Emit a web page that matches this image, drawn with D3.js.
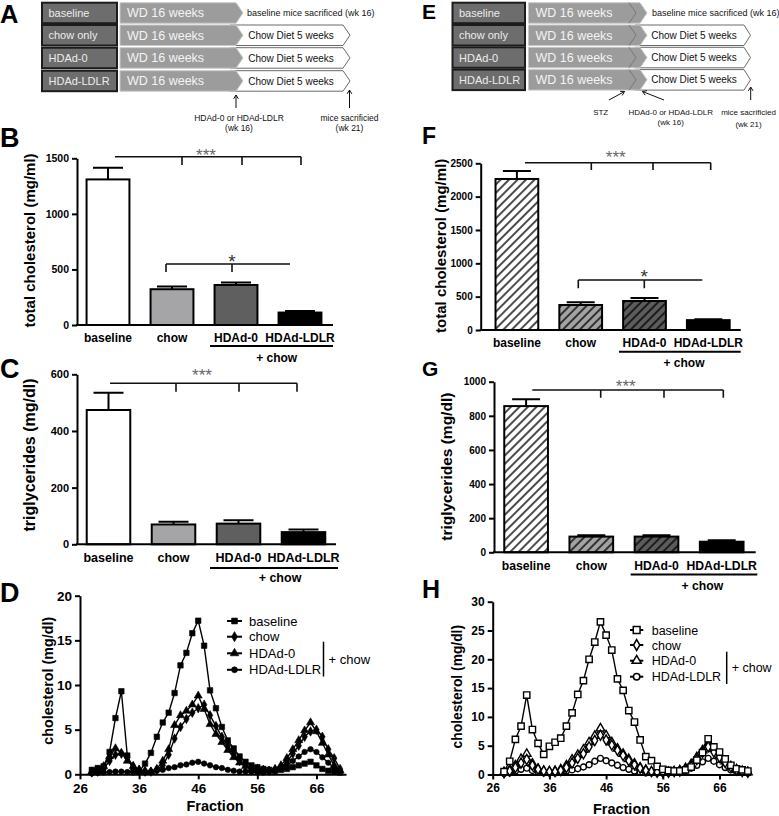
<!DOCTYPE html>
<html><head><meta charset="utf-8">
<script src="https://cdn.jsdelivr.net/npm/d3@7"></script>
<style>
body{margin:0;background:#fff}
svg{display:block;font-family:"Liberation Sans",Arial,sans-serif}
</style></head><body>
<svg id="c" width="779" height="816"></svg>
<script>
// ---------------- DATA ----------------
const groups = ["baseline","chow","HDAd-0","HDAd-LDLR"];
const timelineRows = ["baseline","chow only","HDAd-0","HDAd-LDLR"];
const wdText = "WD 16 weeks";
const chowText = "Chow Diet 5 weeks";
const baselineEndText = "baseline mice sacrificed (wk 16)";

const cholB = [1310, 322, 360, 112];
const cholBErr = [105, 25, 22, 13];
const trigC = [474, 70, 73, 43];
const trigCErr = [61, 10, 12, 9];
const cholF = [2265, 375, 435, 148];
const cholFErr = [120, 40, 45, 15];
const trigG = [857, 92, 92, 62];
const trigGErr = [40, 8, 8, 8];

const ticksB = [0, 500, 1000, 1500];
const ticksC = [0, 200, 400, 600];
const ticksF = [0, 500, 1000, 1500, 2000, 2500];
const ticksG = [0, 200, 400, 600, 800, 1000];
const ticksD = [0, 5, 10, 15, 20];
const ticksH = [0, 5, 10, 15, 20, 25, 30];
const fractionTicks = [26, 36, 46, 56, 66];

const fractionsD = [28,29,30,31,32,33,34,35,36,37,38,39,40,41,42,43,44,45,46,47,48,49,50,51,52,53,54,55,56,57,58,59,60,61,62,63,64,65,66,67,68,69,70];
const baselineD = [0.5,0.7,0.9,2.5,6.3,9.3,2.1,0.5,0.3,1.2,2.4,4.2,5.8,6.9,9.1,12.2,13.6,15.8,17.2,14.4,9.4,7.4,5.3,3.8,2.9,2.0,1.4,1.0,0.8,0.6,0.5,0.4,0.5,0.6,0.8,1.0,1.2,1.4,1.0,0.6,0.4,0.3,0.2];
const chowD = [0.2,0.3,0.6,1.5,2.2,2.3,1.9,0.9,0.5,0.3,0.3,0.5,1.0,2.2,4.0,5.3,6.2,6.9,7.4,7.8,6.6,5.4,4.2,3.2,2.3,1.5,1.0,0.7,0.6,0.5,0.4,0.5,0.8,1.4,2.3,3.2,4.2,4.8,5.0,4.2,2.8,1.8,0.6];
const hdad0D = [0.3,0.5,0.9,2.0,2.9,2.4,1.5,0.9,0.5,0.4,0.3,0.6,1.5,2.8,5.5,6.6,7.1,7.8,8.8,7.3,5.6,4.5,3.6,2.7,1.9,1.3,0.9,0.6,0.5,0.4,0.4,0.6,1.0,1.8,2.8,3.8,4.9,5.8,4.8,3.5,2.2,1.0,0.4];
const ldlrD = [0.1,0.15,0.2,0.25,0.3,0.3,0.25,0.2,0.2,0.2,0.3,0.4,0.5,0.7,0.8,1.0,1.1,1.3,1.4,1.2,1.0,0.8,0.7,0.5,0.4,0.3,0.3,0.25,0.2,0.2,0.3,0.4,0.6,1.0,1.5,2.0,2.5,2.8,2.5,1.9,1.3,0.7,0.3];

const fractionsH = [28,29,30,31,32,33,34,35,36,37,38,39,40,41,42,43,44,45,46,47,48,49,50,51,52,53,54,55,56,57,58,59,60,61,62,63,64,65,66,67,68,69,70,71];
const baselineH = [0.5,2.3,6.1,8.4,13.8,7.8,5.4,3.5,4.9,5.6,6.3,8.4,10.7,13.9,16.3,20.0,23.0,26.5,24.2,21.6,16.6,14.6,11.1,9.1,6.0,3.1,2.4,1.4,0.9,0.7,0.6,0.6,0.8,1.3,2.5,3.8,6.2,4.8,3.9,2.7,1.6,1.0,0.8,0.6];
const chowH = [0.3,0.6,1.2,2.0,2.6,1.6,0.9,0.6,0.5,0.5,0.7,1.2,2.0,2.8,3.6,4.8,5.9,6.8,6.0,5.1,4.2,3.3,2.4,1.7,1.1,0.7,0.5,0.4,0.4,0.4,0.5,0.6,0.9,1.5,2.6,3.8,4.8,3.9,3.0,2.1,1.3,0.8,0.5,0.4];
const hdad0H = [0.4,0.8,1.6,2.7,3.6,1.9,1.0,0.6,0.5,0.6,0.9,1.6,2.6,3.4,4.3,5.6,6.7,8.0,6.8,5.6,4.5,3.6,2.7,1.9,1.2,0.8,0.5,0.4,0.4,0.4,0.5,0.7,1.1,1.8,3.0,4.2,5.4,4.4,3.3,2.3,1.4,0.9,0.6,0.4];
const ldlrH = [0.2,0.3,0.6,0.9,1.1,0.7,0.5,0.3,0.3,0.3,0.4,0.6,0.8,1.0,1.3,1.7,2.3,2.8,2.4,2.0,1.6,1.2,0.9,0.6,0.4,0.3,0.3,0.3,0.3,0.3,0.4,0.5,0.7,1.1,1.6,2.2,2.8,2.3,1.7,1.2,0.8,0.5,0.4,0.3];

// ---------------- DRAW ----------------
const svg = d3.select("#c");
const defs = svg.append("defs");
function hatch(id, bg){
  const p = defs.append("pattern").attr("id", id).attr("patternUnits","userSpaceOnUse")
    .attr("width", 6).attr("height", 6).attr("patternTransform","rotate(45)");
  p.append("rect").attr("width", 6).attr("height", 6).attr("fill", bg);
  p.append("line").attr("x1",1).attr("x2",1).attr("y1",0).attr("y2",6).attr("stroke","#000").attr("stroke-width",1.4);
}
hatch("h0","#fff"); hatch("h1","#a3a3a5"); hatch("h2","#5c5c5c");

function letter(t, x, y, s){
  svg.append("text").attr("x",x).attr("y",y).attr("font-size",s).attr("font-weight","bold").text(t);
}
letter("A",0,23,25.5); letter("B",0,147,27); letter("C",0,378,27); letter("D",0,602,27);
letter("E",422,19,21); letter("F",422,143.5,23); letter("G",422,375.5,21); letter("H",422,598,25);

// ---------- timelines ----------
function timeline(c){
  const g = svg.append("g");
  timelineRows.forEach((lab,i)=>{
    const top = c.tops[i], h = c.h, mid = top + h/2, bot = top + h;
    if(i>0){
      g.append("polygon").attr("points",[[c.chowX0,top],[c.chowEnd,top],[c.chowTip,mid],[c.chowEnd,bot],[c.chowX0,bot]].join(" "))
        .attr("fill","#fff").attr("stroke","#6a6a6a").attr("stroke-width",1);
      g.append("text").attr("x",c.chowTextX).attr("y",mid+3.6).attr("text-anchor","middle").attr("font-size",10).attr("fill","#111").text(chowText);
    } else {
      g.append("text").attr("x",c.endTextX).attr("y",mid+3.2).attr("font-size",9).attr("fill","#111").text(baselineEndText);
    }
    g.append("polygon").attr("points",[[c.wdX0,top],[c.wdEnd,top],[c.wdTip,mid],[c.wdEnd,bot],[c.wdX0,bot]].join(" "))
      .attr("fill","#9c9c9c").attr("stroke","#c9c9c9").attr("stroke-width",1);
    if(c.inner){
      g.append("polyline").attr("points",[[c.inner,top],[c.inner+7,mid],[c.inner,bot]].join(" "))
        .attr("fill","none").attr("stroke","#777").attr("stroke-width",1);
    }
    g.append("rect").attr("x",c.labX0).attr("y",top).attr("width",c.labX1-c.labX0).attr("height",h)
      .attr("fill","#6d6d6d").attr("stroke","#1c1c1c").attr("stroke-width",2);
    g.append("text").attr("x",c.labX0+6.5).attr("y",mid+4).attr("font-size",11).attr("fill","#ececec").text(lab);
    g.append("text").attr("x",c.wdTextX).attr("y",mid+4.5).attr("font-size",12.5).attr("fill","#f4f4f4").text(wdText);
  });
  return g;
}
timeline({tops:[2.7,25,47.7,70.7],h:20.5,labX0:42,labX1:117,wdX0:120,wdEnd:236,wdTip:243,chowX0:230,chowEnd:343,chowTip:350,chowTextX:291,endTextX:247,wdTextX:127});
timeline({tops:[2.7,25,47.3,69.6],h:20.5,labX0:452.5,labX1:525,wdX0:528.5,wdEnd:640,wdTip:647,inner:629,chowX0:635,chowEnd:744,chowTip:750.5,chowTextX:694,endTextX:652,wdTextX:535.5});

function arrow(x1,y1,x2,y2){
  const a = Math.atan2(y2-y1,x2-x1), L = 4.5, w = 0.55;
  const g = svg.append("g").attr("stroke","#111").attr("stroke-width",1).attr("fill","none");
  g.append("line").attr("x1",x1).attr("y1",y1).attr("x2",x2).attr("y2",y2);
  g.append("polyline").attr("points",[[x2-L*Math.cos(a-w),y2-L*Math.sin(a-w)],[x2,y2],[x2-L*Math.cos(a+w),y2-L*Math.sin(a+w)]].join(" "));
}
function note(t,x,y,s){ svg.append("text").attr("x",x).attr("y",y).attr("text-anchor","middle").attr("font-size",s).attr("fill","#111").text(t); }
arrow(236,108,236,95); arrow(349.5,108,349.5,90);
note("HDAd-0  or HDAd-LDLR",239,120.5,8.5); note("(wk 16)",239,130.5,8.5);
note("mice sacrificied",349.5,120.5,8.5); note("(wk 21)",349.5,130.5,8.5);
arrow(609,100,624.5,91.5); arrow(664,100,642.5,91.5); arrow(750.7,100,750.7,87);
note("STZ",600.7,115,8); note("HDAd-0 or HDAd-LDLR",670.7,115,8); note("(wk 16)",670.7,125,8);
note("mice sacrificied",748.5,115,8); note("(wk 21)",748.5,126.5,8);

// ---------- bar panels ----------
const fmt = d3.format("d");
function sig(g, s){
  g.append("path").attr("d", `M${s.x0},${s.y}H${s.x1}` + s.drops.map(d=>`M${d},${s.y}V${s.to}`).join(""))
    .attr("stroke","#111").attr("stroke-width",1.6).attr("fill","none");
  g.append("text").attr("x",s.tx).attr("y",s.ty + 0.58*s.size).attr("text-anchor","middle")
    .attr("font-size",s.size).attr("fill",s.color).text(s.text);
}
function styleAxis(sel, size){
  sel.select(".domain").attr("stroke-width",2);
  sel.selectAll(".tick line").attr("stroke-width",2);
  sel.selectAll("text").attr("font-size",size).attr("font-weight","bold").attr("font-family",'"Liberation Sans",Arial,sans-serif').attr("fill","#000");
}
function barPanel(c){
  const g = svg.append("g");
  const x = d3.scaleBand().domain(groups).range(c.band).paddingInner(0.33).paddingOuter(0.165);
  const y = d3.scaleLinear().domain(c.yDomain).range(c.yRange);
  const bw = x.bandwidth();
  g.selectAll("line.err").data(c.values).join("path")
    .attr("d",(d,i)=>{const xc=x(groups[i])+bw/2, yt=y(d+c.errs[i]); return `M${xc},${y(d)}V${yt}M${xc-c.cap/2},${yt}H${xc+c.cap/2}`;})
    .attr("stroke","#000").attr("stroke-width",2).attr("fill","none");
  g.selectAll("rect.bar").data(c.values).join("rect")
    .attr("x",(d,i)=>x(groups[i])).attr("width",bw)
    .attr("y",d=>y(d)).attr("height",d=>y(0)-y(d))
    .attr("fill",(d,i)=>c.fills[i]).attr("stroke","#000").attr("stroke-width",2);
  g.append("g").attr("transform",`translate(${c.axisX},0)`)
    .call(d3.axisLeft(y).tickValues(c.ticks).tickFormat(fmt).tickSize(5).tickSizeOuter(0).tickPadding(3))
    .call(s=>styleAxis(s,c.tickSize));
  g.append("line").attr("x1",c.axisX-1).attr("x2",c.axisEnd).attr("y1",y(0)).attr("y2",y(0)).attr("stroke","#000").attr("stroke-width",2);
  g.selectAll("text.cat").data(groups).join("text")
    .attr("x",d=>x(d)+bw/2).attr("y",c.labelY).attr("text-anchor","middle")
    .attr("font-size",c.labelSize).attr("font-weight","bold").text(d=>d);
  g.append("line").attr("x1",c.under[0]).attr("x2",c.under[1]).attr("y1",c.under[2]).attr("y2",c.under[2]).attr("stroke","#000").attr("stroke-width",2);
  g.append("text").attr("x",c.plus[0]).attr("y",c.plus[1]).attr("text-anchor","middle").attr("font-size",c.labelSize).attr("font-weight","bold").text("+ chow");
  g.append("text").attr("transform",`translate(${c.title[0]},${c.title[1]}) rotate(-90)`).attr("text-anchor","middle")
    .attr("font-size",c.title[2]).attr("font-weight","bold").text(c.title[3]);
  c.sigs.forEach(s=>sig(g,s));
}
const solidFills = ["#fff","#a5a5a7","#5f5f5f","#000"];
const hatchFills = ["url(#h0)","url(#h1)","url(#h2)","#000"];

barPanel({band:[76,332],yDomain:[0,1500],yRange:[325,158.3],values:cholB,errs:cholBErr,fills:solidFills,cap:30,
  axisX:77,axisEnd:333,ticks:ticksB,tickSize:10.5,labelY:341.7,labelSize:12,under:[210,333,346],plus:[276.7,361.7],
  title:[34.5,240.5,15,"total cholesterol (mg/ml)"],
  sigs:[{x0:115,x1:301,y:156.7,drops:[182,242,301],to:165,text:"***",tx:206,ty:151,size:17,color:"#666"},
        {x0:166,x1:290,y:264,drops:[166,232],to:272,text:"*",tx:232,ty:256.5,size:19,color:"#333"}]});
barPanel({band:[76,336],yDomain:[0,600],yRange:[544.3,374.3],values:trigC,errs:trigCErr,fills:solidFills,cap:30,
  axisX:77,axisEnd:336,ticks:ticksC,tickSize:11,labelY:561.7,labelSize:12.5,under:[210,338,568],plus:[280,581.7],
  title:[35,455,16,"triglycerides (mg/dl)"],
  sigs:[{x0:110,x1:297,y:383.3,drops:[176,239,297],to:391.7,text:"***",tx:202,ty:371,size:17,color:"#666"}]});
barPanel({band:[485,740.2],yDomain:[0,2500],yRange:[330,163.3],values:cholF,errs:cholFErr,fills:hatchFills,cap:28,
  axisX:480.7,axisEnd:740.7,ticks:ticksF,tickSize:10,labelY:346.7,labelSize:12,under:[619,740.7,351.7],plus:[684,366.7],
  title:[446,245.8,15,"total cholesterol (mg/ml)"],
  sigs:[{x0:525,x1:710.7,y:162.7,drops:[591.3,653,710.7],to:170,text:"***",tx:615.7,ty:152.7,size:17,color:"#666"},
        {x0:578.3,x1:702.3,y:280,drops:[578.3,644.3],to:288.3,text:"*",tx:644.3,ty:272,size:19,color:"#333"}]});
barPanel({band:[493.5,754.3],yDomain:[0,1000],yRange:[552.3,381.7],values:trigG,errs:trigGErr,fills:hatchFills,cap:28,
  axisX:494,axisEnd:755.7,ticks:ticksG,tickSize:10,labelY:570,labelSize:12.2,under:[630.7,757.3,574.5],plus:[702.3,590],
  title:[452,466.7,15.5,"triglycerides (mg/dl)"],
  sigs:[{x0:532.3,x1:723.3,y:390,drops:[600.7,664,723.3],to:397.7,text:"***",tx:625.7,ty:381.7,size:17,color:"#666"}]});

// ---------- line panels ----------
const symTypes = [d3.symbolSquare, d3.symbolDiamond, d3.symbolTriangle, d3.symbolCircle];
function linePanel(c){
  const g = svg.append("g");
  const x = d3.scaleLinear().domain(c.xDomain).range(c.xRange);
  const y = d3.scaleLinear().domain(c.yDomain).range(c.yRange);
  const line = d3.line().x(d=>x(d[0])).y(d=>y(d[1]));
  const sizes = c.sizes;
  for(let k=c.series.length-1;k>=0;k--){
    const pts = c.fr.map((f,i)=>[f,c.series[k][i]]);
    g.append("path").datum(pts).attr("d",line).attr("fill","none").attr("stroke","#000").attr("stroke-width",1.4);
    g.selectAll(null).data(pts).join("path")
      .attr("transform",d=>`translate(${x(d[0])},${y(d[1])})`)
      .attr("d",d3.symbol().type(symTypes[k]).size(sizes[k]))
      .attr("fill",c.open?"#fff":"#000").attr("stroke","#000").attr("stroke-width",c.open?1.4:0.6);
  }
  g.append("g").attr("transform",`translate(${c.xRange[0]},0)`)
    .call(d3.axisLeft(y).tickValues(c.yTicks).tickFormat(fmt).tickSize(5).tickSizeOuter(0).tickPadding(3))
    .call(s=>styleAxis(s,c.tickSize));
  g.append("g").attr("transform",`translate(0,${c.yRange[0]})`)
    .call(d3.axisBottom(x).tickValues(fractionTicks).tickFormat(fmt).tickSize(5).tickSizeOuter(0).tickPadding(4))
    .call(s=>styleAxis(s,c.tickSize));
  g.append("text").attr("x",c.xTitle[0]).attr("y",c.xTitle[1]).attr("text-anchor","middle").attr("font-size",c.xTitle[2]).attr("font-weight","bold").text("Fraction");
  g.append("text").attr("transform",`translate(${c.yTitle[0]},${c.yTitle[1]}) rotate(-90)`).attr("text-anchor","middle")
    .attr("font-size",c.yTitle[2]).attr("font-weight","bold").text("cholesterol (mg/dl)");
  const L = c.legend;
  groups.forEach((name,k)=>{
    const yy = L.rows[k];
    g.append("line").attr("x1",L.x0).attr("x2",L.x1).attr("y1",yy).attr("y2",yy).attr("stroke","#000").attr("stroke-width",2);
    g.append("path").attr("transform",`translate(${(L.x0+L.x1)/2},${yy})`)
      .attr("d",d3.symbol().type(symTypes[k]).size(sizes[k]*1.15))
      .attr("fill",c.open?"#fff":"#000").attr("stroke","#000").attr("stroke-width",c.open?1.5:0.6);
    g.append("text").attr("x",L.tx).attr("y",yy+L.fs*0.36).attr("font-size",L.fs).text(name);
  });
  g.append("line").attr("x1",L.vx).attr("x2",L.vx).attr("y1",L.vy[0]).attr("y2",L.vy[1]).attr("stroke","#000").attr("stroke-width",1.5);
  g.append("text").attr("x",L.vx+5).attr("y",L.cy+L.fs*0.36).attr("font-size",L.fs).text("+ chow");
}
linePanel({xDomain:[26,71],xRange:[80,346],yDomain:[0,20],yRange:[774.3,595.7],fr:fractionsD,
  series:[baselineD,chowD,hdad0D,ldlrD],sizes:[30,26,28,24],open:false,yTicks:ticksD,tickSize:13.5,
  xTitle:[215,811,14.5],yTitle:[53,680.8,14.3],
  legend:{x0:227,x1:242,tx:249,rows:[621,636.7,653.3,669.8],fs:13,vx:323.5,vy:[641.7,676.5],cy:659.3}});
linePanel({xDomain:[26,71.5],xRange:[492.7,750.7],yDomain:[0,30],yRange:[774.5,601.7],fr:fractionsH,
  series:[baselineH,chowH,hdad0H,ldlrH],sizes:[40,30,32,28],open:true,yTicks:ticksH,tickSize:12,
  xTitle:[621.5,814,14.5],yTitle:[462,686.7,13.8],
  legend:{x0:630,x1:643.3,tx:651.7,rows:[630,645,660.7,676.7],fs:12.5,vx:726.7,vy:[651.7,684],cy:667.3}});
</script>
</body></html>
